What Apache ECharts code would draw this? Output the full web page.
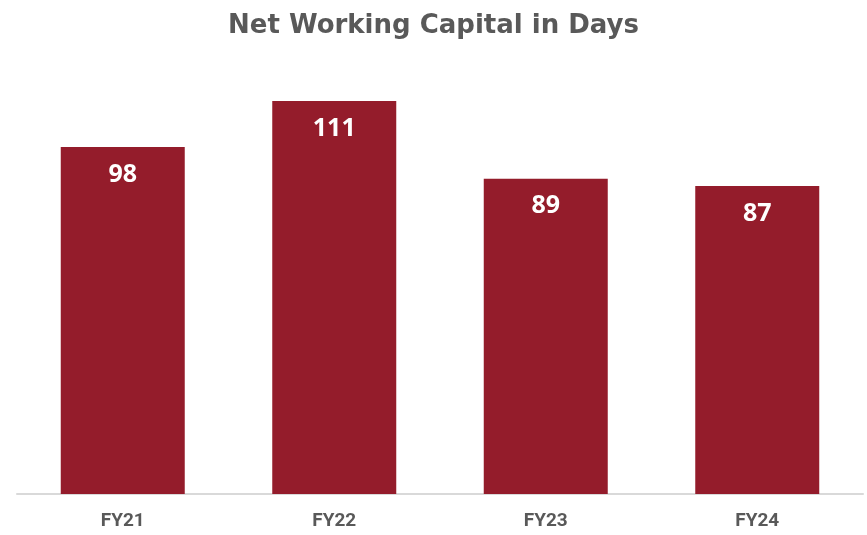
<!DOCTYPE html>
<html>
<head>
<meta charset="utf-8">
<script src="https://cdn.jsdelivr.net/npm/echarts@6/dist/echarts.min.js"></script>
<style>
  html, body { margin: 0; padding: 0; background: #fff; }
  #chart { width: 867px; height: 535px; }
</style>
</head>
<body>
<div id="chart"></div>
<script>
// data
const years = ['FY21', 'FY22', 'FY23', 'FY24']
const nwcDays = [98, 111, 89, 87]

let chart = echarts.init(document.getElementById('chart'), null, {renderer: 'canvas'})

chart.setOption({
    animation: false,
    title: {
        text: 'Net Working Capital in Days',
        left: 'center',
        top: 8,
        textStyle: {
            fontFamily: 'DejaVu Sans',
            fontWeight: 'bold',
            fontSize: 26,
            color: '#595959'
        }
    },
    grid: {left: 17, right: 4, top: 69, bottom: 41},
    xAxis: {
        type: 'category',
        data: years,
        axisLine: {lineStyle: {color: '#d9d9d9', width: 2}},
        axisTick: {show: false},
        axisLabel: {
            margin: 18,
            fontFamily: 'Roboto',
            fontWeight: 'bold',
            fontSize: 19,
            color: '#595959'
        }
    },
    yAxis: {
        type: 'value',
        min: 0,
        max: 120,
        show: false,
        splitLine: {show: false}
    },
    series: [{
        type: 'bar',
        data: nwcDays,
        barWidth: 124,
        itemStyle: {color: '#941c2b'},
        label: {
            show: true,
            position: 'insideTop',
            distance: 15,
            fontFamily: 'Open Sans',
            fontWeight: 'bold',
            fontSize: 25,
            color: '#ffffff'
        }
    }]
})
</script>
</body>
</html>
